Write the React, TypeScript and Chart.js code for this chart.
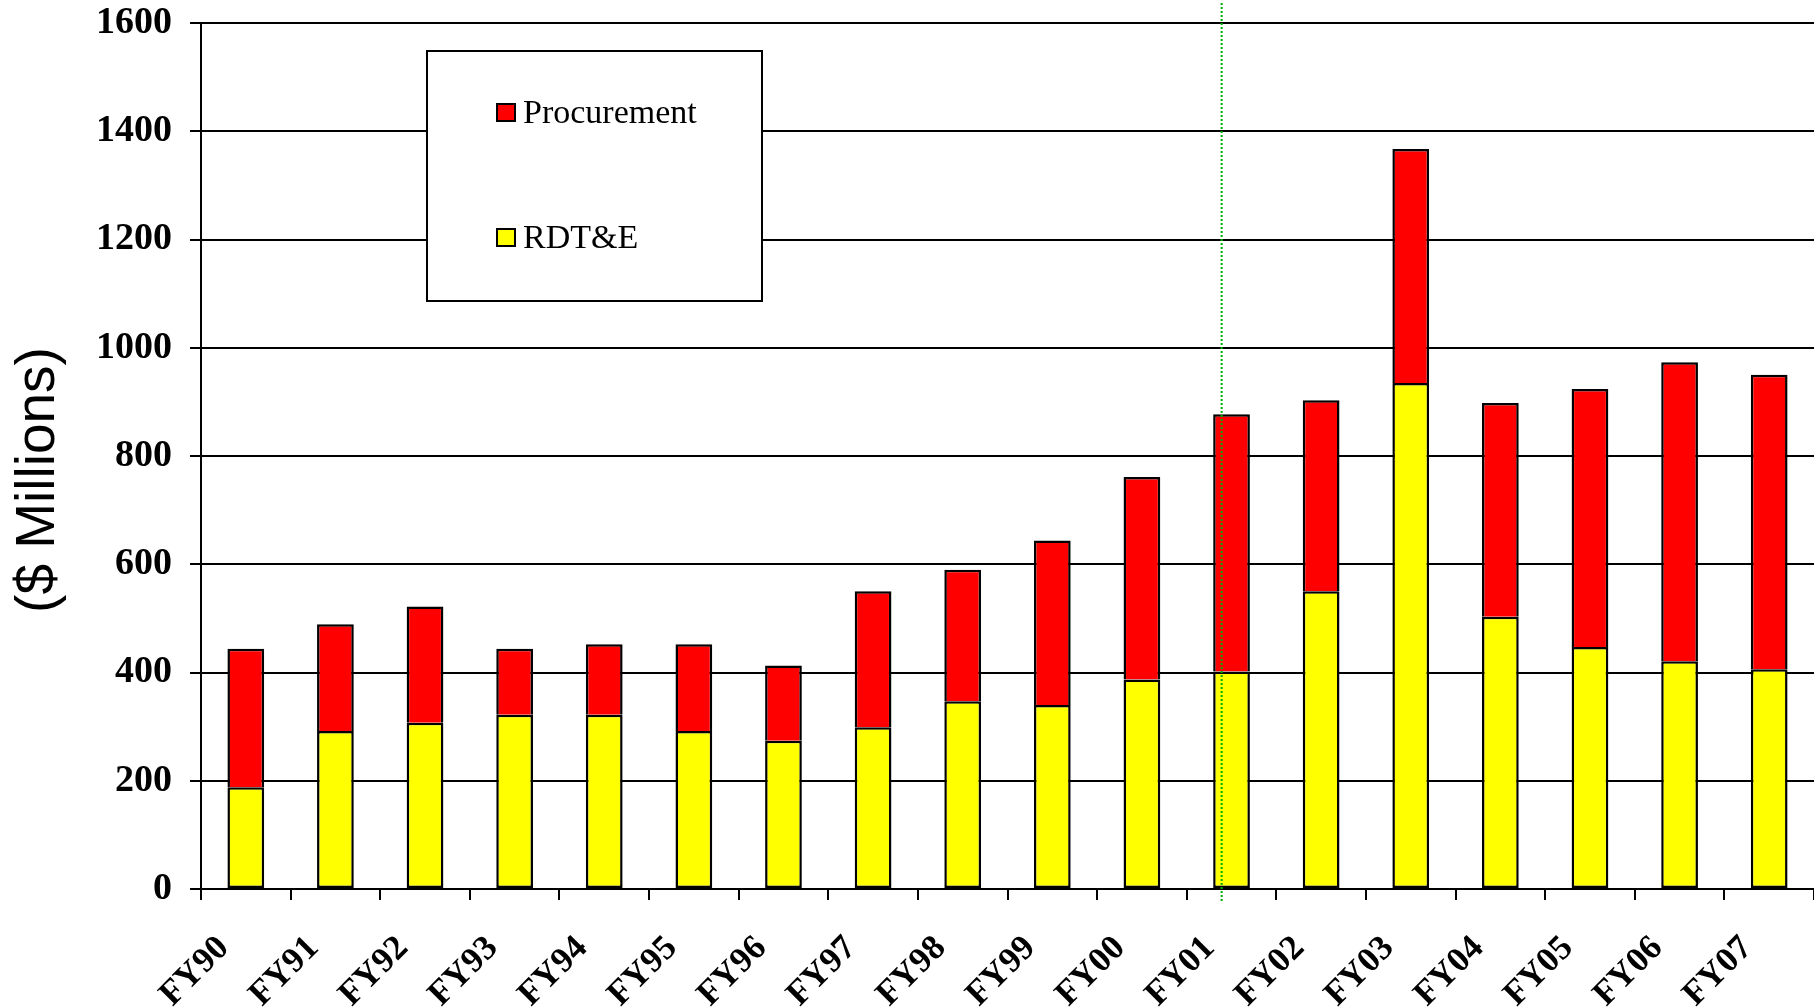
import React, { useEffect, useRef } from 'react';
import { Chart, registerables } from 'chart.js';

Chart.register(...registerables);

// ---- data ----
const categories = ['FY90', 'FY91', 'FY92', 'FY93', 'FY94', 'FY95', 'FY96', 'FY97', 'FY98', 'FY99', 'FY00', 'FY01', 'FY02', 'FY03', 'FY04', 'FY05', 'FY06', 'FY07'];
const rdte = [188, 292, 307, 322, 322, 292, 274, 299, 347, 340, 387, 402, 550, 935, 503, 447, 421, 406];
const procurement = [256, 197, 215, 122, 130, 160, 139, 251, 243, 304, 374, 475, 353, 432, 395, 477, 552, 544];
const seriesNames = ['RDT&E', 'Procurement'];
const seriesColors = ['#ffff00', '#ff0000'];
const yTickLabels = ['0', '200', '400', '600', '800', '1000', '1200', '1400', '1600'];
const yMin = 0;
const yMax = 1600;
const yStep = 200;
const yTitle = '($ Millions)';
const dividerIndex = 10.89;

const SERIF = "'Liberation Serif', 'Times New Roman', serif";
const SANS = "'Liberation Sans', Arial, sans-serif";

const overlayPlugin = {
  id: 'overlay',
  afterDatasetsDraw(chart: any) {
    const { ctx, chartArea } = chart;
    const x = chart.scales.x.getPixelForValue(dividerIndex);
    ctx.save();
    ctx.strokeStyle = '#00b000';
    ctx.lineWidth = 2;
    ctx.setLineDash([2, 2]);
    ctx.beginPath();
    ctx.moveTo(x, chartArea.top - 20);
    ctx.lineTo(x, chartArea.bottom + 12);
    ctx.stroke();
    ctx.restore();
  },
  afterDraw(chart: any) {
    const { ctx, chartArea } = chart;
    // y-axis title
    ctx.save();
    ctx.translate(39, (chartArea.top + chartArea.bottom) / 2 + 24);
    ctx.rotate(-Math.PI / 2);
    ctx.font = `55px ${SANS}`;
    ctx.fillStyle = '#000';
    ctx.textAlign = 'center';
    ctx.textBaseline = 'middle';
    ctx.fillText(yTitle, 0, 0);
    ctx.restore();

    // legend box
    const bx = 427, by = 51, bw = 335, bh = 250;
    ctx.save();
    ctx.fillStyle = '#fff';
    ctx.fillRect(bx, by, bw, bh);
    ctx.strokeStyle = '#000';
    ctx.lineWidth = 2;
    ctx.strokeRect(bx, by, bw, bh);
    const ds = chart.data.datasets.slice().reverse();
    const rowsY = [113, 238];
    ds.forEach((d: any, i: number) => {
      const cy = rowsY[i];
      ctx.fillStyle = d.backgroundColor;
      ctx.fillRect(497, cy - 9, 18, 17);
      ctx.strokeStyle = '#000';
      ctx.lineWidth = 2;
      ctx.strokeRect(497, cy - 9, 18, 17);
      ctx.fillStyle = '#000';
      ctx.font = `34px ${SERIF}`;
      ctx.textAlign = 'left';
      ctx.textBaseline = 'middle';
      ctx.fillText(d.label, 523, cy + 1);
    });
    ctx.restore();
  },
};

export default function App() {
  const ref = useRef<HTMLCanvasElement>(null);

  useEffect(() => {
    if (!ref.current) return;
    const chart = new Chart(ref.current, {
      type: 'bar',
      data: {
        labels: categories,
        datasets: [
          {
            label: seriesNames[0],
            data: rdte,
            backgroundColor: seriesColors[0],
            borderColor: '#000',
            borderWidth: 2.5,
            borderSkipped: false,
            inflateAmount: 0,
            barPercentage: 0.41,
            categoryPercentage: 1,
          },
          {
            label: seriesNames[1],
            data: procurement,
            backgroundColor: seriesColors[1],
            borderColor: '#000',
            borderWidth: { top: 2.5, left: 2.5, right: 2.5, bottom: 0 },
            borderSkipped: false,
            inflateAmount: 0,
            barPercentage: 0.41,
            categoryPercentage: 1,
          },
        ],
      },
      options: {
        responsive: false,
        animation: false,
        devicePixelRatio: 1,
        layout: { padding: { top: 23, left: 0, right: 0, bottom: 0 } },
        plugins: {
          legend: { display: false },
          tooltip: { enabled: false },
        },
        scales: {
          x: {
            stacked: true,
            grid: {
              display: true,
              offset: true,
              drawOnChartArea: false,
              drawTicks: true,
              tickLength: 11,
              color: '#000',
              lineWidth: 2,
            },
            border: { display: true, color: '#000', width: 2 },
            ticks: {
              autoSkip: false,
              maxRotation: 45,
              minRotation: 45,
              padding: 28,
              labelOffset: -22,
              color: '#000',
              font: { family: SERIF, size: 35, weight: 'bold' },
            },
            afterFit: (scale: any) => {
              scale.height = 119;
              scale.paddingLeft = 0;
              scale.paddingRight = 0;
            },
          },
          y: {
            stacked: true,
            min: yMin,
            max: yMax,
            grid: {
              color: '#000',
              lineWidth: 2,
              tickLength: 11,
              drawTicks: true,
            },
            border: { display: true, color: '#000', width: 2 },
            ticks: {
              stepSize: yStep,
              padding: 18,
              color: '#000',
              font: { family: SERIF, size: 38, weight: 'bold' },
              callback: (_v: any, i: number) => yTickLabels[i],
            },
            title: { display: false },
            afterFit: (scale: any) => {
              scale.width = 201;
              scale.paddingTop = 0;
              scale.paddingBottom = 0;
            },
          },
        },
      } as any,
      plugins: [overlayPlugin],
    });
    return () => chart.destroy();
  }, []);

  return (
    <div style={{ position: 'fixed', left: 0, top: 0, width: 1814, height: 1008, overflow: 'hidden', background: '#fff' }}>
      <canvas ref={ref} width={1814} height={1008} style={{ display: 'block', width: 1814, height: 1008 }} />
    </div>
  );
}
